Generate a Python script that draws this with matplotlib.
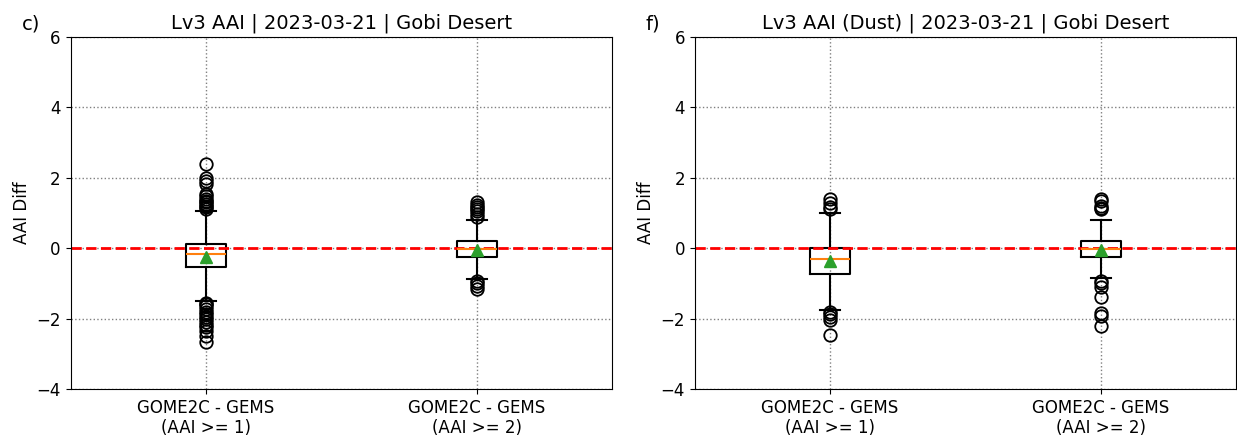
import matplotlib
matplotlib.use("Agg")
import matplotlib.pyplot as plt

# box statistics per panel: [AAI >= 1, AAI >= 2]
labels = ["GOME2C - GEMS\n(AAI >= 1)", "GOME2C - GEMS\n(AAI >= 2)"]

all_q1 = [-0.53, -0.25]
all_med = [-0.17, -0.01]
all_q3 = [0.12, 0.21]
all_mean = [-0.25, -0.05]
all_lo = [-1.50, -0.89]
all_hi = [1.06, 0.81]
all_fliers = [
    [1.12, 1.16, 1.2, 1.25, 1.3, 1.35, 1.4, 1.47, 1.55, 1.82, 1.91, 2.0, 2.39,
     -1.55, -1.6, -1.65, -1.72, -1.8, -1.88, -1.95, -2.02, -2.1, -2.18,
     -2.25, -2.35, -2.5, -2.66],
    [0.9, 0.98, 1.05, 1.12, 1.18, 1.24, 1.3, -0.92, -1.0, -1.08, -1.15],
]

dust_q1 = [-0.72, -0.25]
dust_med = [-0.30, -0.01]
dust_q3 = [0.0, 0.21]
dust_mean = [-0.37, -0.06]
dust_lo = [-1.76, -0.86]
dust_hi = [1.01, 0.81]
dust_fliers = [
    [1.1, 1.18, 1.28, 1.4, -1.8, -1.88, -1.95, -2.03, -2.47],
    [1.1, 1.15, 1.2, 1.35, 1.4, -0.92, -1.0, -1.1, -1.38, -1.85, -1.92, -2.2],
]


def make_stats(q1, med, q3, mean, lo, hi, fliers):
    stats = []
    for i in range(len(labels)):
        stats.append(dict(q1=q1[i], med=med[i], q3=q3[i], mean=mean[i],
                          whislo=lo[i], whishi=hi[i], fliers=fliers[i],
                          label=labels[i]))
    return stats


panels = [
    ("c)", "Lv3 AAI | 2023-03-21 | Gobi Desert",
     make_stats(all_q1, all_med, all_q3, all_mean, all_lo, all_hi, all_fliers)),
    ("f)", "Lv3 AAI (Dust) | 2023-03-21 | Gobi Desert",
     make_stats(dust_q1, dust_med, dust_q3, dust_mean, dust_lo, dust_hi, dust_fliers)),
]

fig, axes = plt.subplots(1, 2, figsize=(12.37, 4.36), dpi=100)
fig.subplots_adjust(left=0.057, right=0.9995, top=0.915, bottom=0.108, wspace=0.152)

for ax, (tag, title, stats) in zip(axes, panels):
    ax.bxp(stats, showmeans=True, showfliers=True,
           boxprops=dict(linewidth=1.5),
           whiskerprops=dict(linewidth=1.5),
           capprops=dict(linewidth=1.5),
           medianprops=dict(color="tab:orange", linewidth=1.5),
           meanprops=dict(marker="^", markerfacecolor="tab:green",
                          markeredgecolor="tab:green", markersize=9),
           flierprops=dict(marker="o", markerfacecolor="none",
                           markeredgecolor="black", markersize=9, markeredgewidth=1.3))
    ax.axhline(0, color="red", linestyle="--", linewidth=2)
    ax.set_ylim(-4, 6)
    ax.set_yticks([-4, -2, 0, 2, 4, 6])
    ax.grid(True, linestyle=":", color="gray", linewidth=1)
    ax.set_axisbelow(True)
    ax.set_ylabel("AAI Diff", fontsize=12)
    ax.set_title(title, fontsize=14)
    ax.tick_params(labelsize=12)
    ax.text(-0.09, 1.01, tag, transform=ax.transAxes, fontsize=14, ha="left", va="bottom")

fig.savefig("out.png", dpi=100)
